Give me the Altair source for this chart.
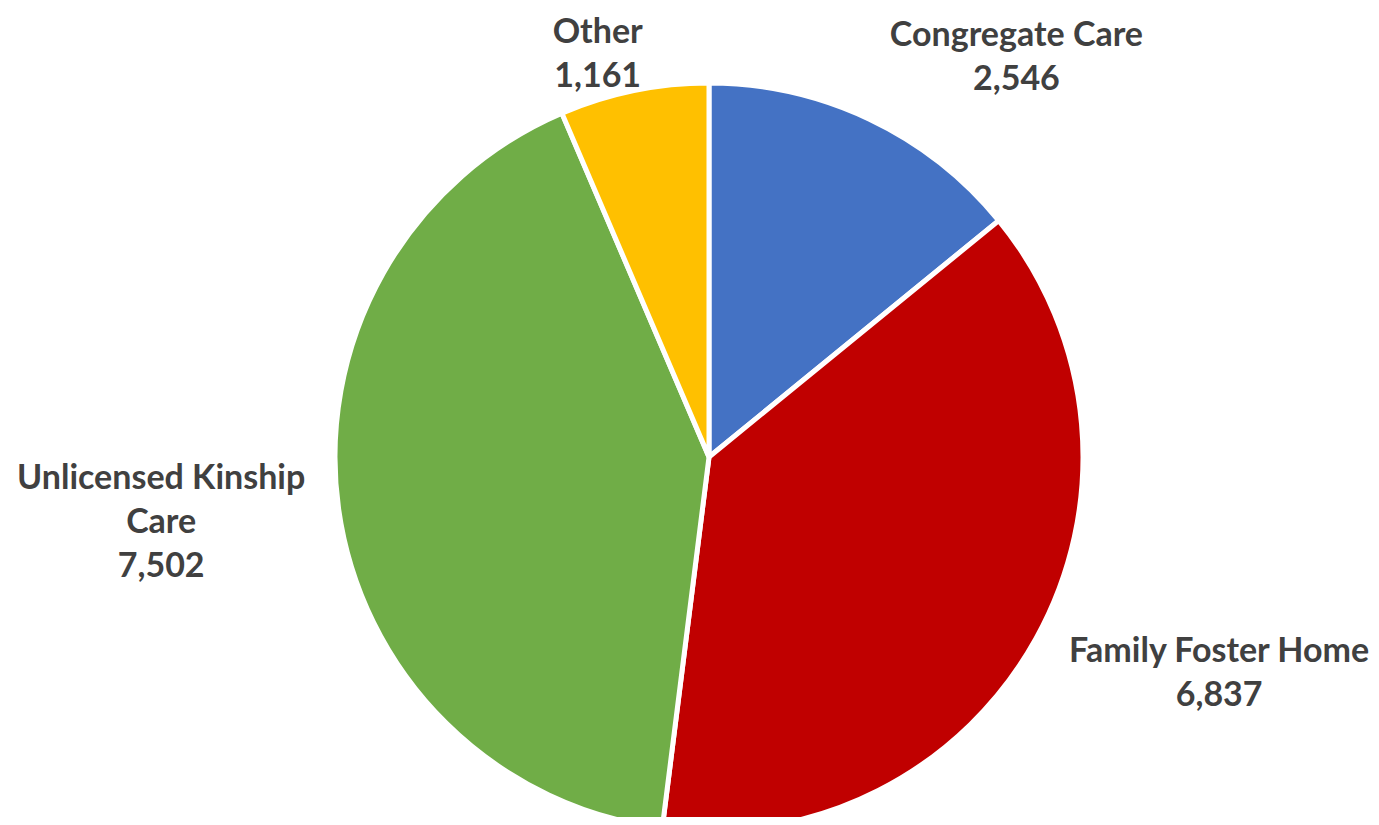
import altair as alt
import pandas as pd

categories = ["Congregate Care", "Family Foster Home", "Unlicensed Kinship Care", "Other"]
values = [2546, 6837, 7502, 1161]
label_text = ["Congregate Care\n2,546", "Family Foster Home\n6,837", "Unlicensed Kinship\nCare\n7,502", "Other\n1,161"]
colors = ["#4472C4", "#C00000", "#70AD47", "#FFC000"]

df = pd.DataFrame({"category": categories, "value": values, "label": label_text, "order": list(range(len(categories)))})

CX, CY, R = 701, 449, 374

pie = alt.Chart(df).mark_arc(stroke="white", strokeWidth=5, radius=R).encode(
    theta=alt.Theta("value:Q", stack=True),
    order=alt.Order("order:Q"),
    color=alt.Color("category:N", scale=alt.Scale(domain=categories, range=colors), legend=None),
    x=alt.value(CX), y=alt.value(CY),
)

lbl_base = alt.Chart(df).transform_window(
    cum="sum(value)", sort=[alt.SortField("order")], frame=[None, 0]
).transform_joinaggregate(
    total="sum(value)"
).transform_calculate(
    ang="(datum.cum - datum.value / 2) / datum.total * 2 * PI"
)

offsets = {
    "Congregate Care": (123, -33),
    "Family Foster Home": (134, -13),
    "Unlicensed Kinship Care": (-122, -38),
    "Other": (-25, -3),
}

layers = [pie]
for cat in categories:
    dx, dy = offsets[cat]
    t = lbl_base.transform_filter(alt.datum.category == cat).mark_text(
        radius=430, dx=dx, dy=dy, font="Lato", fontSize=34, fontWeight="bold",
        color="#404040", lineBreak="\n", lineHeight=44, align="center", baseline="middle",
    ).encode(
        text="label:N",
        theta=alt.Theta("ang:Q", scale=None),
        x=alt.value(CX), y=alt.value(CY),
    )
    layers.append(t)

chart = alt.layer(*layers).properties(
    width=1363, height=809, padding=0, autosize=alt.AutoSizeParams(type="none")
).configure_view(stroke=None)

chart.save("out.html", embed_options={"renderer": "svg", "actions": False})
